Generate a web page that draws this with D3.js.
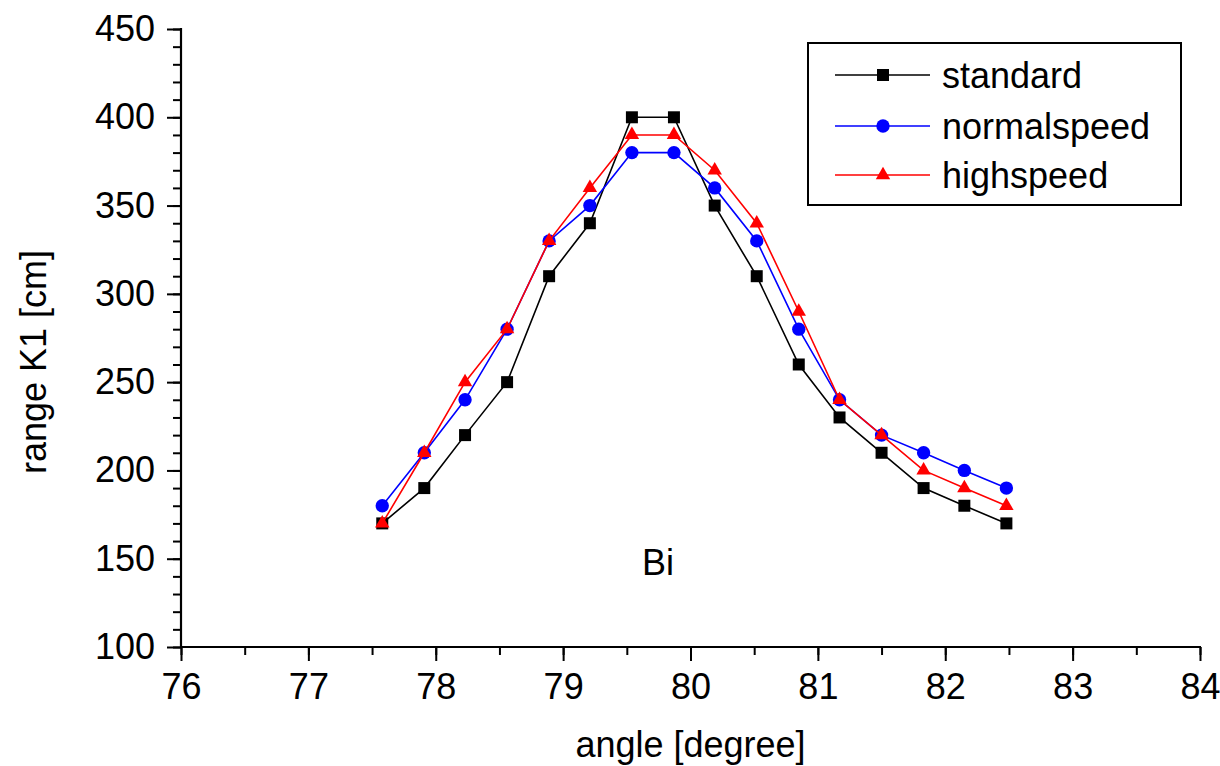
<!DOCTYPE html>
<html>
<head>
<meta charset="utf-8">
<script src="https://cdn.jsdelivr.net/npm/d3@7"></script>
<style>
  html, body { margin: 0; padding: 0; background: #fff; }
  svg { display: block; }
  text { font-family: "Liberation Sans", Arial, sans-serif; fill: #000; }
</style>
</head>
<body>
<svg id="chart" width="1220" height="766"></svg>
<script>
// ---- data ----
const angles = [77.58, 77.91, 78.23, 78.56, 78.89, 79.21, 79.54, 79.87, 80.19, 80.52, 80.85, 81.17, 81.50, 81.83, 82.15, 82.48];
const standard    = [170, 190, 220, 250, 310, 340, 400, 400, 350, 310, 260, 230, 210, 190, 180, 170];
const normalspeed = [180, 210, 240, 280, 330, 350, 380, 380, 360, 330, 280, 240, 220, 210, 200, 190];
const highspeed   = [170, 210, 250, 280, 330, 360, 390, 390, 370, 340, 290, 240, 220, 200, 190, 180];
const seriesNames = ["standard", "normalspeed", "highspeed"];
const xTicks = [76, 77, 78, 79, 80, 81, 82, 83, 84];
const yTicks = [100, 150, 200, 250, 300, 350, 400, 450];
const xTitle = "angle [degree]";
const yTitle = "range K1 [cm]";
const annotation = "Bi";

// ---- layout ----
const svg = d3.select("#chart");
const pLeft = 181, pRight = 1200, pTop = 29, pBottom = 647;
const fontSize = 36;

const x = d3.scaleLinear().domain([76, 84]).range([pLeft, pRight]);
const y = d3.scaleLinear().domain([100, 450]).range([pBottom, pTop]);

const series = [
  { name: seriesNames[0], values: standard,    color: "#000000", symbol: d3.symbolSquare,   size: 144 },
  { name: seriesNames[1], values: normalspeed, color: "#0000ff", symbol: d3.symbolCircle,   size: 140 },
  { name: seriesNames[2], values: highspeed,   color: "#ff0000", symbol: d3.symbolTriangle, size: 90 }
];

// ---- axes ----
const xMinor = d3.range(76, 84.001, 0.5);
const yMinor = d3.range(100, 450.001, 10);

const gxMinor = svg.append("g").attr("transform", `translate(0,${pBottom})`)
  .call(d3.axisBottom(x).tickValues(xMinor).tickSize(8).tickFormat(""));
const gyMinor = svg.append("g").attr("transform", `translate(${pLeft},0)`)
  .call(d3.axisLeft(y).tickValues(yMinor).tickSize(8).tickFormat(""));

const gx = svg.append("g").attr("transform", `translate(0,${pBottom})`)
  .call(d3.axisBottom(x).tickValues(xTicks).tickSize(14).tickPadding(12).tickFormat(d3.format("d")));
const gy = svg.append("g").attr("transform", `translate(${pLeft},0)`)
  .call(d3.axisLeft(y).tickValues(yTicks).tickSize(14).tickPadding(12).tickFormat(d3.format("d")));

[gxMinor, gyMinor, gx, gy].forEach(g => {
  g.select("path.domain").remove();
  g.selectAll(".tick line").attr("stroke", "#000").attr("stroke-width", 2);
  g.selectAll("text").attr("font-size", fontSize).attr("font-family", "Liberation Sans, Arial, sans-serif").attr("fill", "#000");
});
svg.append("line").attr("x1", pLeft - 1).attr("x2", pRight + 1).attr("y1", pBottom).attr("y2", pBottom)
  .attr("stroke", "#000").attr("stroke-width", 2.2);
svg.append("line").attr("x1", pLeft).attr("x2", pLeft).attr("y1", pTop - 1).attr("y2", pBottom)
  .attr("stroke", "#000").attr("stroke-width", 2.2);

// ---- axis titles ----
svg.append("text").attr("x", (pLeft + pRight) / 2).attr("y", 757)
  .attr("text-anchor", "middle").attr("font-size", fontSize).text(xTitle);
svg.append("text").attr("transform", "translate(46,362) rotate(-90)")
  .attr("text-anchor", "middle").attr("font-size", fontSize).text(yTitle);

// ---- series ----
const line = d3.line().x((d, i) => x(angles[i])).y(d => y(d));
series.forEach(s => {
  svg.append("path").datum(s.values)
    .attr("d", line).attr("fill", "none")
    .attr("stroke", s.color).attr("stroke-width", 1.6);
  svg.append("g").selectAll("path").data(s.values).join("path")
    .attr("transform", (d, i) => `translate(${x(angles[i])},${y(d)})`)
    .attr("d", d3.symbol().type(s.symbol).size(s.size))
    .attr("fill", s.color);
});

// ---- annotation ----
svg.append("text").attr("x", 658).attr("y", 575)
  .attr("text-anchor", "middle").attr("font-size", fontSize).text(annotation);

// ---- legend ----
const lg = svg.append("g");
lg.append("rect").attr("x", 808).attr("y", 43).attr("width", 373).attr("height", 162)
  .attr("fill", "#fff").attr("stroke", "#000").attr("stroke-width", 2);
const rowY = [75, 126, 175];
series.forEach((s, i) => {
  const yy = rowY[i];
  lg.append("line").attr("x1", 835).attr("x2", 930).attr("y1", yy).attr("y2", yy)
    .attr("stroke", s.color).attr("stroke-width", 1.6);
  lg.append("path").attr("transform", `translate(883,${yy})`)
    .attr("d", d3.symbol().type(s.symbol).size(s.size)).attr("fill", s.color);
  lg.append("text").attr("x", 942).attr("y", yy).attr("dy", "0.35em")
    .attr("font-size", fontSize).text(s.name);
});
</script>
</body>
</html>
